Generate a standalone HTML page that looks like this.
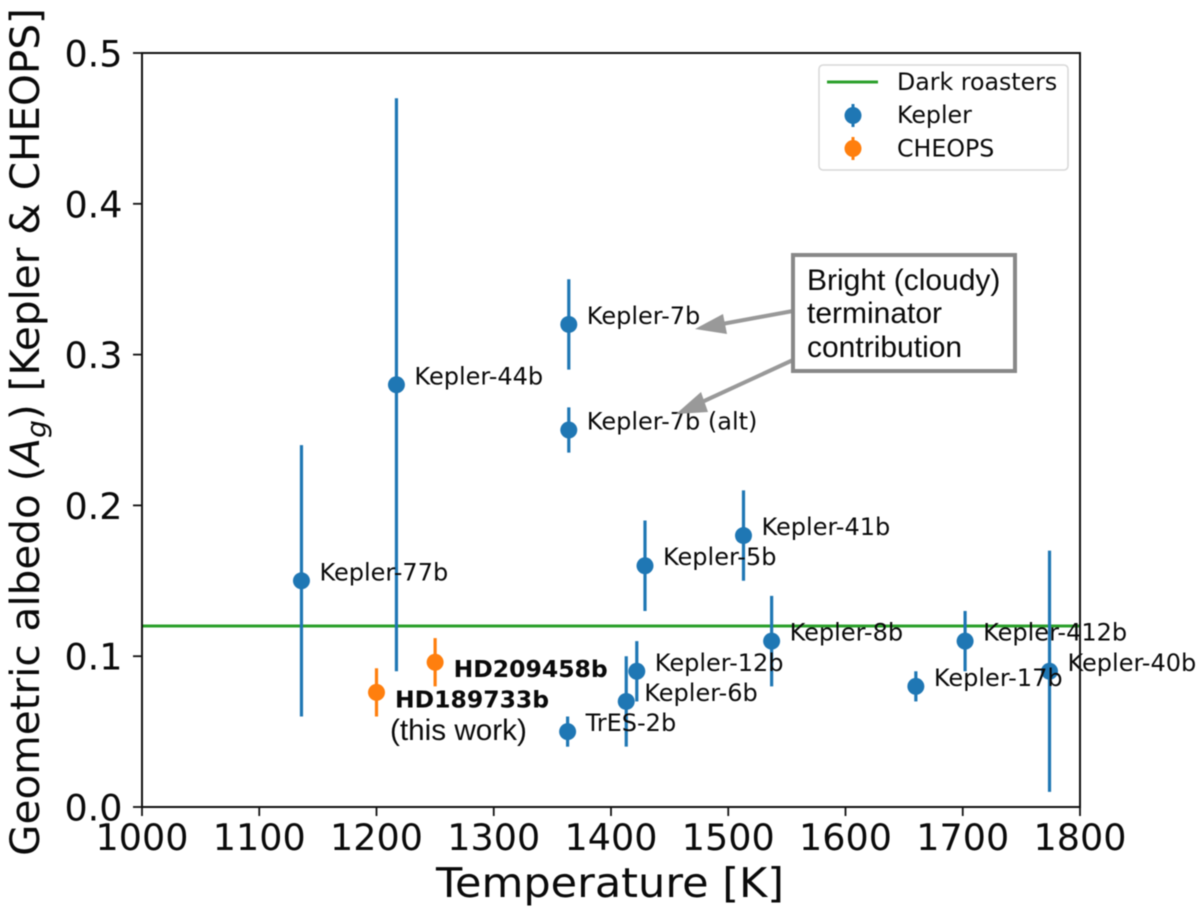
<!DOCTYPE html>
<html>
<head>
<meta charset="utf-8">
<style>
html,body{margin:0;padding:0;background:#fff;width:1200px;height:912px;overflow:hidden}
svg{display:block;filter:blur(0.45px)}
text{font-family:"DejaVu Sans","Liberation Sans",sans-serif;fill:#0a0a0a}
.arial{font-family:"Liberation Sans",sans-serif}
</style>
</head>
<body>
<svg id="chart" width="1200" height="912" viewBox="0 0 1200 912" xmlns="http://www.w3.org/2000/svg">
  <g id="plot"></g>
  <rect x="142" y="53" width="938" height="754" fill="none" stroke="#111" stroke-width="2"/>
  <g id="ticks"></g>
  <text x="436" y="897" font-size="41" textLength="348" lengthAdjust="spacingAndGlyphs">Temperature [K]</text>
  <text transform="translate(39,432) rotate(-90)" font-size="40.500" text-anchor="middle">Geometric albedo (<tspan font-style="italic">A</tspan><tspan font-style="italic" font-size="28" dy="7">g</tspan><tspan dy="-7">) [Kepler &amp; CHEOPS]</tspan></text>

  <g>
    <rect x="819" y="65" width="249" height="105" rx="4" fill="#fff" stroke="#d8d8d8" stroke-width="1.5"/>
    <line x1="827" y1="82" x2="878" y2="82" stroke="#2ca02c" stroke-width="3"/>
    <text x="897" y="90" font-size="23.700">Dark roasters</text>
    <line x1="853" y1="104" x2="853" y2="127" stroke="#1f77b4" stroke-width="3"/>
    <circle cx="853" cy="115.500" r="8.500" fill="#1f77b4"/>
    <text x="897" y="123" font-size="23.700">Kepler</text>
    <line x1="853" y1="137" x2="853" y2="160" stroke="#ff7f0e" stroke-width="3"/>
    <circle cx="853" cy="148.500" r="8.500" fill="#ff7f0e"/>
    <text x="897" y="156.500" font-size="23.700">CHEOPS</text>
  </g>

  <g id="annotation">
    <line x1="793" y1="311" x2="722" y2="324" stroke="#999" stroke-width="4"/>
    <polygon points="695,329 723,314 727,334" fill="#999"/>
    <line x1="793" y1="360" x2="702" y2="402" stroke="#999" stroke-width="4"/>
    <polygon points="676,414 701,392 708,412" fill="#999"/>
    <rect x="793" y="255" width="222" height="116" fill="#fff" stroke="#888" stroke-width="4"/>
    <text class="arial" font-size="30">
      <tspan x="807" y="290">Bright (cloudy)</tspan>
      <tspan x="807" y="323">terminator</tspan>
      <tspan x="807" y="357">contribution</tspan>
    </text>
  </g>
</svg>
<script>
const keplerNames = ["Kepler-77b","Kepler-44b","Kepler-7b","Kepler-7b (alt)","TrES-2b","Kepler-5b","Kepler-41b","Kepler-8b","Kepler-12b","Kepler-6b","Kepler-17b","Kepler-412b","Kepler-40b"];
const keplerTemp = [1136,1217,1364,1364,1363,1429,1513,1537,1422,1413,1660,1702,1774];
const keplerAlbedo = [0.15,0.28,0.32,0.25,0.05,0.16,0.18,0.11,0.09,0.07,0.08,0.11,0.09];
const keplerLow = [0.06,0.09,0.29,0.235,0.04,0.13,0.15,0.08,0.07,0.04,0.07,0.09,0.01];
const keplerHigh = [0.24,0.47,0.35,0.265,0.06,0.19,0.21,0.14,0.11,0.10,0.09,0.13,0.17];

const cheopsNames = ["HD189733b","HD209458b"];
const cheopsTemp = [1200,1250];
const cheopsAlbedo = [0.076,0.096];
const cheopsLow = [0.06,0.08];
const cheopsHigh = [0.092,0.112];

const darkRoasters = 0.12;
const xTickValues = [1000,1100,1200,1300,1400,1500,1600,1700,1800];
const yTickValues = [0,0.1,0.2,0.3,0.4,0.5];

const NS = "http://www.w3.org/2000/svg";
const X0 = 142, X1 = 1080, Y0 = 807, Y1 = 53;
const xScale = t => X0 + (t - 1000) / 800 * (X1 - X0);
const yScale = a => Y0 + a / 0.5 * (Y1 - Y0);

function mk(parent, tag, props, text) {
  const el = document.createElementNS(NS, tag);
  for (const k in props) el.setAttribute(k, props[k]);
  if (text !== undefined) el.textContent = text;
  parent.appendChild(el);
  return el;
}

const plot = document.getElementById("plot");
const ticks = document.getElementById("ticks");

const refLine = mk(plot, "line", {x1: X0, x2: X1, y1: yScale(darkRoasters), y2: yScale(darkRoasters), stroke: "#2ca02c", "stroke-width": 3});



keplerNames.forEach((name, i) => {
  const bar = mk(plot, "line", {x1: xScale(keplerTemp[i]), x2: xScale(keplerTemp[i]), y1: yScale(keplerLow[i]), y2: yScale(keplerHigh[i]), stroke: "#1f77b4", "stroke-width": 3.2});
  
  
  const pt = mk(plot, "circle", {cx: xScale(keplerTemp[i]), cy: yScale(keplerAlbedo[i]), r: 8.5, fill: "#1f77b4"});
  
  
});

keplerNames.forEach((name, i) => {
  const lab = mk(plot, "text", {x: xScale(keplerTemp[i]) + 18, y: yScale(keplerAlbedo[i]) - 0.5, "font-size": 24}, name);
  
  
});

cheopsNames.forEach((name, i) => {
  const bar = mk(plot, "line", {x1: xScale(cheopsTemp[i]), x2: xScale(cheopsTemp[i]), y1: yScale(cheopsLow[i]), y2: yScale(cheopsHigh[i]), stroke: "#ff7f0e", "stroke-width": 3.2});
  
  
  const pt = mk(plot, "circle", {cx: xScale(cheopsTemp[i]), cy: yScale(cheopsAlbedo[i]), r: 8.5, fill: "#ff7f0e"});
  
  
  const lab = mk(plot, "text", {x: xScale(cheopsTemp[i]) + 18.5, y: yScale(cheopsAlbedo[i]) + 15, "font-size": 23.5, "font-weight": "bold"}, name);
  
  
});

const note = mk(plot, "text", {x: 390, y: 740, "font-size": 29.7, class: "arial"}, "(this work)");



xTickValues.forEach(v => {
  const t = mk(ticks, "line", {x1: xScale(v), x2: xScale(v), y1: Y0, y2: Y0 + 9, stroke: "#111", "stroke-width": 1.8});
  
  
  const l = mk(ticks, "text", {x: xScale(v), y: 850, "font-size": 36.5, "text-anchor": "middle"}, String(v));
  
  
});

yTickValues.forEach(v => {
  const t = mk(ticks, "line", {x1: X0 - 9, x2: X0, y1: yScale(v), y2: yScale(v), stroke: "#111", "stroke-width": 1.8});
  
  
  const l = mk(ticks, "text", {x: 122.5, y: yScale(v) + 13.5, "font-size": 36.5, "text-anchor": "end"}, v.toFixed(1));
  
  
});
</script>
</body>
</html>
